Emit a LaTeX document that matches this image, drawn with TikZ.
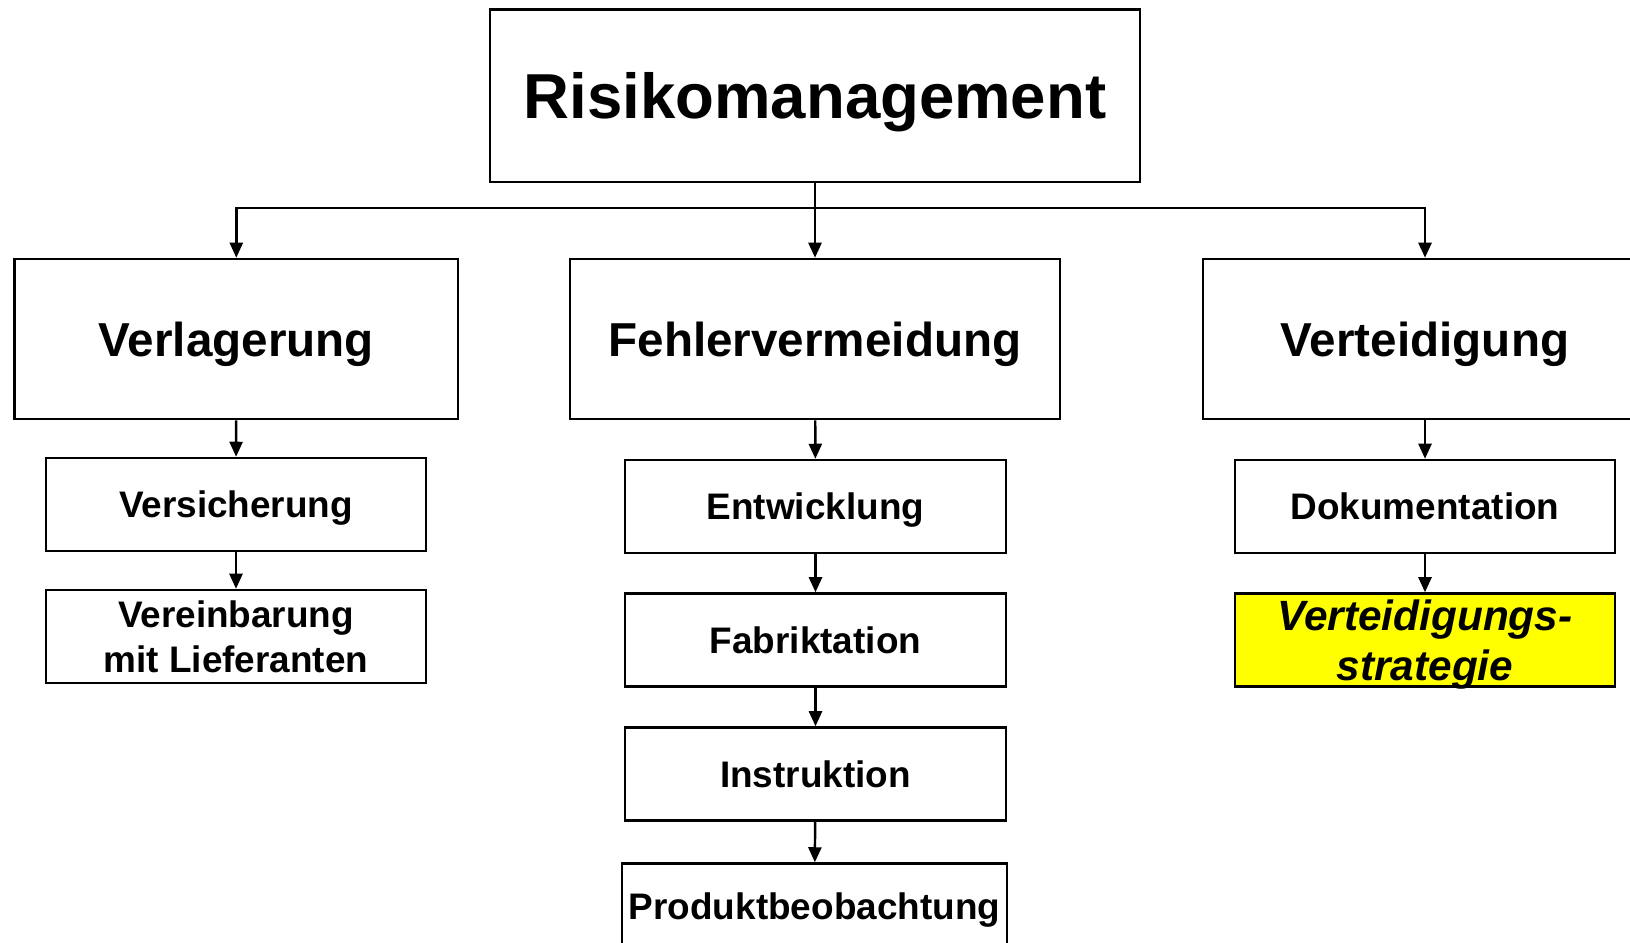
\documentclass[tikz,border=0pt]{standalone}
\usepackage{fontspec}
\setmainfont{Liberation Sans}
\usetikzlibrary{arrows.meta}

\definecolor{hilite}{RGB}{255,255,0}

\begin{document}
\begin{tikzpicture}[x=0.01cm, y=-0.01cm,
    box/.style={draw=black, line width=0.7pt, inner sep=0pt, text depth=0pt, align=center},
    topbox/.style={box, minimum width=6.5cm, minimum height=1.726cm,
        font=\bfseries\fontsize{18.07}{21}\selectfont},
    midbox/.style={box, minimum height=1.6cm,
        font=\bfseries\fontsize{13.54}{16}\selectfont},
    subbox/.style={box, minimum width=3.8cm, minimum height=0.93cm,
        font=\bfseries\fontsize{10.5}{12.8}\selectfont},
    link/.style={line width=0.7pt, -{Triangle[length=0.15cm, width=0.13cm]}}
]
\useasboundingbox (0,0) rectangle (1630,942);
\clip (0,0) rectangle (1630,942);

% Top level
\node[topbox] (risk) at (815,95.7) {Risikomanagement};
\coordinate (hub) at (815,208);

% Second level
\node[midbox, minimum width=4.435cm] (verl) at (236.3,339) {Verlagerung};
\node[midbox, minimum width=4.9cm] (fehl) at (815,339) {Fehlervermeidung};
\node[midbox, minimum width=4.44cm] (vert) at (1425,339) {Verteidigung};

% Left column
\node[subbox] (vers) at (236,504.5) {Versicherung};
\node[subbox] (vere) at (236,636.5) {Vereinbarung\\mit Lieferanten};

% Middle column
\node[subbox, minimum width=3.81cm] (entw) at (815.5,506.5) {Entwicklung};
\node[subbox, minimum width=3.81cm] (fabr) at (815.5,640) {Fabriktation};
\node[subbox, minimum width=3.81cm] (instr) at (815.5,774) {Instruktion};
\node[subbox, minimum width=3.85cm, minimum height=0.85cm] (prod) at (814.5,906) {Produktbeobachtung};

% Right column
\node[subbox] (doku) at (1425,506.5) {Dokumentation};
\node[subbox, fill=hilite, font=\bfseries\itshape\fontsize{12.04}{14.2}\selectfont]
    (strat) at (1425,640) {Verteidigungs-\\strategie};

% Connectors
\draw[line width=0.7pt] (risk.south) -- (hub);
\draw[link] (hub) -| (verl.north);
\draw[link] (hub) -- (fehl.north);
\draw[link] (hub) -| (vert.north);

\draw[link] (verl) -- (vers);
\draw[link] (vers) -- (vere);

\draw[link] (fehl) -- (entw);
\draw[link] (entw) -- (fabr);
\draw[link] (fabr) -- (instr);
\draw[link] (instr) -- (prod);

\draw[link] (vert) -- (doku);
\draw[link] (doku) -- (strat);

\end{tikzpicture}
\end{document}
